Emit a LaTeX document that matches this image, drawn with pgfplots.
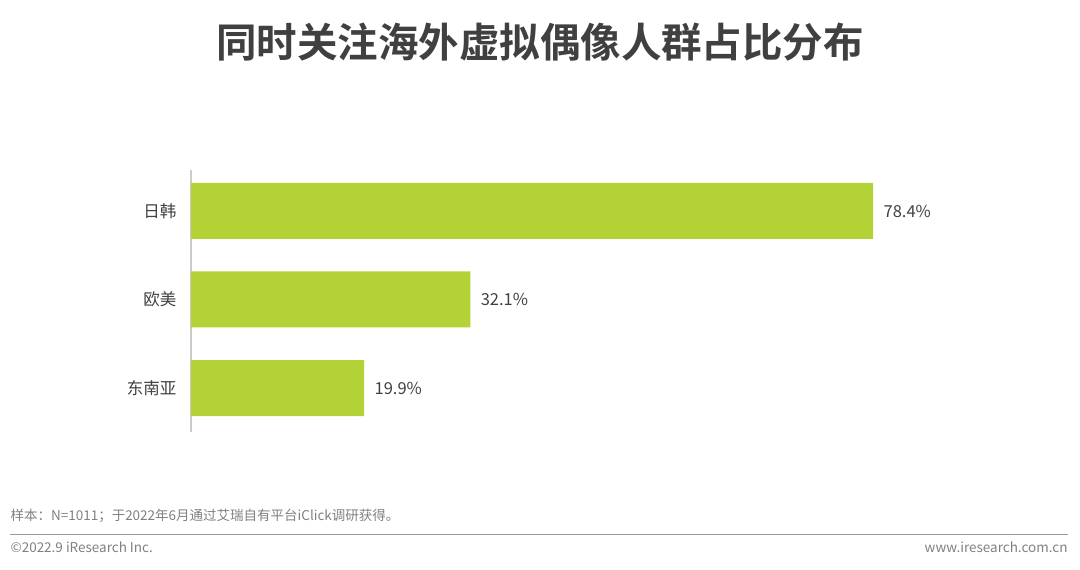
\documentclass[border=0pt]{standalone}
\usepackage{pgfplots}
\pgfplotsset{compat=1.18}
\usepackage{fontspec}
\setmainfont{Noto Sans CJK SC}
\newfontfamily\titlefont{Noto Sans CJK SC Bold}
\definecolor{barg}{HTML}{B2D235}
\definecolor{txt}{HTML}{404040}
\definecolor{foot}{HTML}{808080}

\begin{document}
\begin{tikzpicture}[x=1pt,y=1pt]
\path (0,0) rectangle (1080,570);
% title
\node[font=\titlefont\fontsize{40.5}{44}\selectfont, text=txt] at (540,528) {同时关注海外虚拟偶像人群占比分布};
\begin{axis}[
    at={(191pt,138pt)}, anchor=south west,
    scale only axis, width=870pt, height=262pt,
    xbar, bar width=56pt,
    xmin=0, xmax=100,
    ymin=-0.463, ymax=2.497, y dir=reverse,
    axis x line=none, axis y line*=left,
    y axis line style={draw=black!20, line width=1.2pt, -},
    ytick={0,1,2}, yticklabels={日韩,欧美,东南亚},
    major tick length=0pt, yticklabel style={font=\fontsize{16.5}{18}\selectfont, text=txt, xshift=-11pt},
    /pgf/number format/assume math mode=true,
    nodes near coords={\pgfmathprintnumber[fixed,precision=1,fixed zerofill]{\pgfplotspointmeta}\%},
    point meta=x,
    nodes near coords style={font=\fontsize{16.5}{18}\selectfont, text=txt, xshift=7pt},
    clip=false,
]
\addplot[fill=barg, draw=none] coordinates {(78.4,0) (32.1,1) (19.9,2)};
\end{axis}
% footer
\node[anchor=west, font=\fontsize{13.5}{15}\selectfont, text=foot] at (7,54) {样本：N=1011；于2022年6月通过艾瑞自有平台iClick调研获得。};
\draw[foot!80, line width=1pt] (10,35) -- (1068,35);
\node[anchor=west, font=\fontsize{13.5}{15}\selectfont, text=foot] at (7,23) {©2022.9 iResearch Inc.};
\node[anchor=east, font=\fontsize{13.5}{15}\selectfont, text=foot] at (1071,23) {www.iresearch.com.cn};
\end{tikzpicture}
\end{document}
